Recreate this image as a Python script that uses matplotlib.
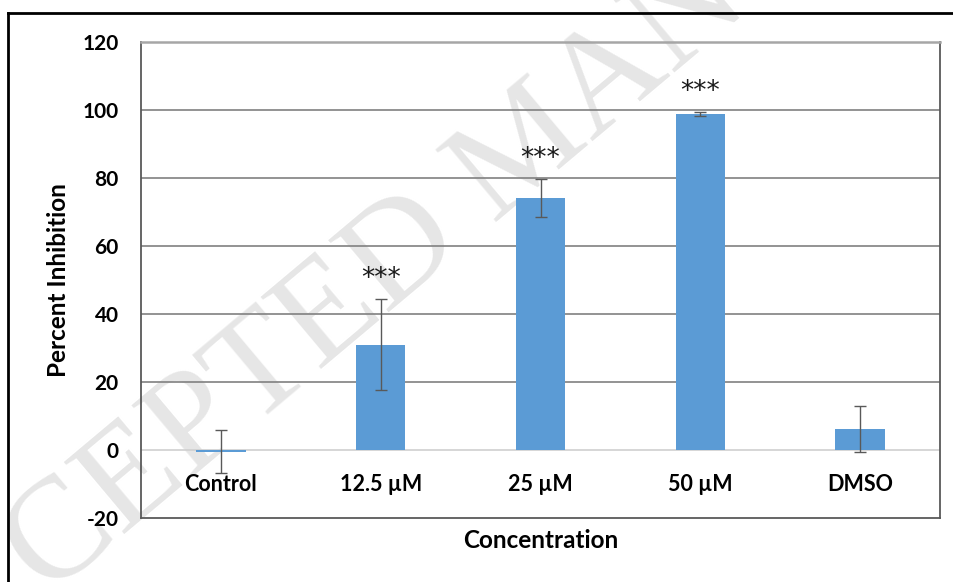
import matplotlib
matplotlib.use("Agg")
import matplotlib.pyplot as plt
from matplotlib.lines import Line2D

categories = ["Control", "12.5 \u00b5M", "25 \u00b5M", "50 \u00b5M", "DMSO"]
means = [-0.5, 31.0, 74.1, 98.8, 6.2]
errors = [6.4, 13.4, 5.6, 0.5, 6.7]
signif = ["", "***", "***", "***", ""]
yticks = [-20, 0, 20, 40, 60, 80, 100, 120]

W, H = 954, 582
fig = plt.figure(figsize=(W / 100, H / 100), dpi=100)
fig.patch.set_facecolor("white")

font = "Lato"

# watermark
fig.text(528 / W, 1 - 150 / H, "ACCEPTED MANUSCRIPT", family="Liberation Serif",
         fontsize=104, color="#e6e6e6", rotation=40, ha="center", va="center",
         rotation_mode="anchor", zorder=0)

# outer border (top and left)
fig.add_artist(Line2D([8 / W, 1.0], [1 - 13 / H, 1 - 13 / H], color="black", lw=2, zorder=1))
fig.add_artist(Line2D([8 / W, 8 / W], [0, 1 - 13 / H], color="black", lw=2, zorder=1))

left, right, top, bottom = 141 / W, 940 / W, 1 - 42 / H, 1 - 518 / H
ax = fig.add_axes([left, bottom, right - left, top - bottom])
ax.set_facecolor("none")
ax.set_zorder(2)

x = list(range(len(categories)))
ax.set_xlim(-0.5, len(categories) - 0.5)
ax.set_ylim(-20, 120)

for yv in yticks:
    if yv == 0:
        ax.axhline(yv, color="#d0d0d0", lw=1.2, zorder=1)
    elif yv not in (-20, 120):
        ax.axhline(yv, color="#808080", lw=1.2, zorder=1)

ax.bar(x, means, width=0.31, color="#5B9BD5", zorder=2)
ax.errorbar(x, means, yerr=errors, fmt="none", ecolor="#595959", elinewidth=1.0,
            capsize=4.5, capthick=1.0, zorder=3)

for xi, m, e, s in zip(x, means, errors, signif):
    if s:
        ax.text(xi, m + e + 6.0, s, ha="center", va="center", fontsize=19,
                family="DejaVu Sans", color="#1a1a1a", zorder=4)

for side in ("left", "right", "bottom"):
    ax.spines[side].set_color("#595959")
    ax.spines[side].set_linewidth(1.3)
ax.spines["top"].set_color("#a6a6a6")
ax.spines["top"].set_linewidth(1.8)

ax.set_yticks(yticks)
ax.set_yticklabels([str(v) for v in yticks], family=font, fontweight="bold", fontsize=15)
ax.tick_params(axis="y", length=0, pad=16)

ax.set_xticks(x)
ax.set_xticklabels(categories, family=font, fontweight="bold", fontsize=15.5)
ax.tick_params(axis="x", length=0, pad=-32)

ax.set_ylabel("Percent Inhibition", family=font, fontweight="bold", fontsize=17.5, labelpad=9)
ax.set_xlabel("Concentration", family=font, fontweight="bold", fontsize=17.5, labelpad=8)

fig.savefig("out.png", dpi=100)
